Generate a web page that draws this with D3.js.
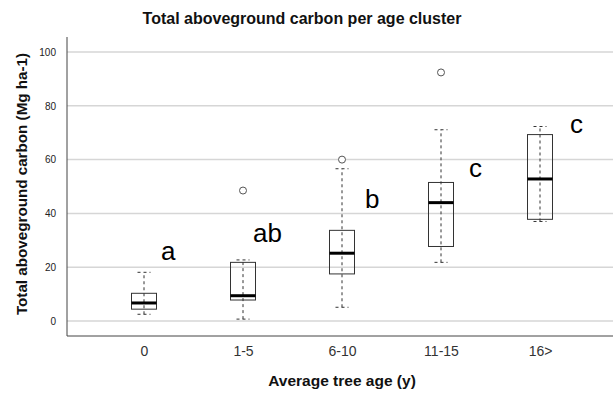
<!DOCTYPE html>
<html>
<head>
<meta charset="utf-8">
<script src="https://cdn.jsdelivr.net/npm/d3@7"></script>
<style>
  html, body { margin: 0; padding: 0; background: #fff; }
  svg { display: block; font-family: Arial, "Liberation Sans", sans-serif; }
</style>
</head>
<body>
<svg id="chart" width="613" height="393"></svg>
<script>
// Age clusters and five-number summaries of aboveground carbon (Mg ha-1)
const categories = ["0", "1-5", "6-10", "11-15", "16>"];
const whiskerLow  = [2.5, 0.7, 5.1, 21.8, 37.0];
const q1          = [4.4, 7.8, 17.5, 27.7, 37.8];
const median      = [6.7, 9.4, 25.2, 44.0, 52.8];
const q3          = [10.3, 21.8, 33.7, 51.5, 69.3];
const whiskerHigh = [18.1, 22.7, 56.6, 71.1, 72.3];
// Outliers as [category index, value]
const outliers = [[1, 48.5], [2, 60.0], [3, 92.4]];
// Significance letters per cluster
const groupLetters = ["a", "ab", "b", "c", "c"];
const yTicks = [0, 20, 40, 60, 80, 100];

const svg = d3.select("#chart");
const plot = { left: 67, right: 613, top: 37, bottom: 336 };

const x = d3.scalePoint().domain(categories).range([144, 540]);
const y = d3.scaleLinear().domain([0, 100]).range([321, 52]);

// Gridlines and y tick labels
const yAxis = d3.axisLeft(y).tickValues(yTicks).tickSize(0).tickPadding(0).tickFormat(d3.format("d"));
const gy = svg.append("g").attr("transform", `translate(${plot.left - 11},0)`).call(yAxis);
gy.select(".domain").remove();
gy.selectAll("text").attr("font-size", 10).attr("fill", "#222")
  .attr("font-family", "Arial, 'Liberation Sans', sans-serif");

svg.append("g").selectAll("line").data(yTicks).join("line")
  .attr("x1", plot.left).attr("x2", plot.right)
  .attr("y1", d => y(d)).attr("y2", d => y(d))
  .attr("stroke", "#d6d6d6").attr("stroke-width", 1.5);

// Axis lines
svg.append("line").attr("x1", plot.left).attr("x2", plot.left)
  .attr("y1", plot.top).attr("y2", plot.bottom).attr("stroke", "#444").attr("stroke-width", 1);
svg.append("line").attr("x1", plot.left).attr("x2", plot.right)
  .attr("y1", plot.bottom).attr("y2", plot.bottom).attr("stroke", "#444").attr("stroke-width", 1);

// x tick labels
const xAxis = d3.axisBottom(x).tickSize(0).tickPadding(0);
const gx = svg.append("g").attr("transform", `translate(0,${plot.bottom + 10})`).call(xAxis);
gx.select(".domain").remove();
gx.selectAll("text").attr("font-size", 14).attr("fill", "#333")
  .attr("font-family", "Arial, 'Liberation Sans', sans-serif");

// Boxes
const boxW = 25, capW = 13;
const groups = svg.append("g").selectAll("g").data(categories).join("g");

groups.append("line")
  .attr("x1", d => x(d)).attr("x2", d => x(d))
  .attr("y1", (d, i) => y(whiskerLow[i])).attr("y2", (d, i) => y(whiskerHigh[i]))
  .attr("stroke", "#333").attr("stroke-width", 1).attr("stroke-dasharray", "3,3");

groups.append("rect")
  .attr("x", d => x(d) - boxW / 2).attr("width", boxW)
  .attr("y", (d, i) => y(q3[i])).attr("height", (d, i) => y(q1[i]) - y(q3[i]))
  .attr("fill", "none").attr("stroke", "#333").attr("stroke-width", 1);

groups.selectAll(".cap").data((d, i) => [[d, whiskerLow[i]], [d, whiskerHigh[i]]]).join("line")
  .attr("class", "cap")
  .attr("x1", d => x(d[0]) - capW / 2).attr("x2", d => x(d[0]) + capW / 2)
  .attr("y1", d => y(d[1])).attr("y2", d => y(d[1]))
  .attr("stroke", "#333").attr("stroke-width", 1).attr("stroke-dasharray", "3,3");

groups.append("line")
  .attr("x1", d => x(d) - boxW / 2).attr("x2", d => x(d) + boxW / 2)
  .attr("y1", (d, i) => y(median[i])).attr("y2", (d, i) => y(median[i]))
  .attr("stroke", "#000").attr("stroke-width", 3);

// Outliers
svg.append("g").selectAll("circle").data(outliers).join("circle")
  .attr("cx", d => x(categories[d[0]])).attr("cy", d => y(d[1]))
  .attr("r", 3.5).attr("fill", "#fff").attr("stroke", "#555").attr("stroke-width", 1);

// Significance letters, placed beside each box near its upper whisker
const letterDx = [17, 10, 23, 28, 30];
const letterY = [22.7, 29.4, 42, 53.6, 70];
svg.append("g").selectAll("text").data(groupLetters).join("text")
  .attr("x", (d, i) => x(categories[i]) + letterDx[i])
  .attr("y", (d, i) => y(letterY[i]))
  .attr("font-size", 26).attr("fill", "#000").text(d => d);

// Titles
svg.append("text").attr("x", 302).attr("y", 24).attr("text-anchor", "middle")
  .attr("font-size", 16).attr("font-weight", "bold").attr("fill", "#111")
  .text("Total aboveground carbon per age cluster");

svg.append("text").attr("x", 342).attr("y", 386).attr("text-anchor", "middle")
  .attr("font-size", 15.5).attr("font-weight", "bold").attr("fill", "#111")
  .text("Average tree age (y)");

svg.append("text").attr("transform", "translate(27,184) rotate(-90)").attr("text-anchor", "middle")
  .attr("font-size", 15.2).attr("font-weight", "bold").attr("fill", "#111")
  .text("Total aboveground carbon (Mg ha-1)");
</script>
</body>
</html>
